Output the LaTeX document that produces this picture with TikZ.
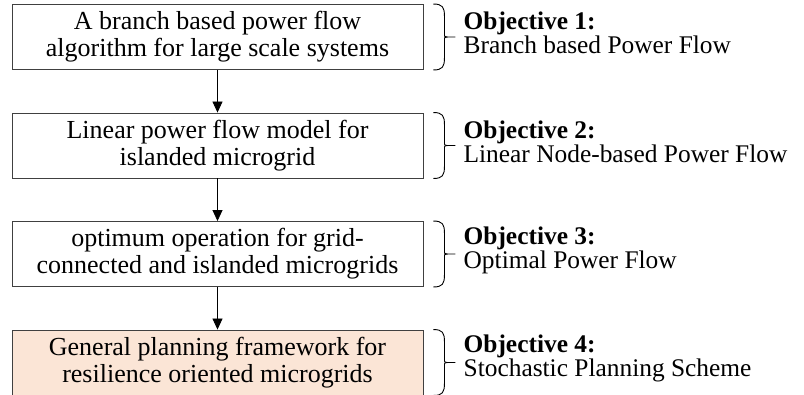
\documentclass[tikz,border=0pt]{standalone}
\usepackage{fontspec}
\setmainfont{Liberation Serif}
\usetikzlibrary{arrows.meta}
\definecolor{peach}{HTML}{FBE5D6}
\definecolor{boxline}{HTML}{404040}
\begin{document}
\begin{tikzpicture}[x=1pt,y=-1pt,
  stagebox/.style={draw=boxline,line width=0.9pt,minimum width=411pt,minimum height=65pt,
    align=center,inner sep=0pt,font=\fontsize{26}{27}\selectfont},
  objtext/.style={anchor=west,align=left,inner sep=0pt,font=\fontsize{25.4}{23}\selectfont},
  flow/.style={draw=black,line width=0.8pt,-{Triangle[length=11pt,width=10pt]}},
  bracepath/.style={draw=black,line width=0.9pt}]
\useasboundingbox (0,0) rectangle (804,394);
\node[stagebox] (b1) at (217.5,37) {A branch based power flow\\algorithm for large scale systems};
\node[stagebox] (b2) at (217.5,145.5) {Linear power flow model for\\islanded microgrid};
\node[stagebox] (b3) at (217.5,254) {optimum operation for grid-\\connected and islanded microgrids};
\node[stagebox,fill=peach] (b4) at (217.5,362.5) {General planning framework for\\resilience oriented microgrids};
\draw[flow] (b1) -- (b2);
\draw[flow] (b2) -- (b3);
\draw[flow] (b3) -- (b4);
\foreach \i/\t/\s in {1/{Objective 1:}/{Branch based Power Flow},
                      2/{Objective 2:}/{Linear Node-based Power Flow},
                      3/{Objective 3:}/{Optimal Power Flow},
                      4/{Objective 4:}/{Stochastic Planning Scheme}}{
  \coordinate (t\i) at ([xshift=10pt]b\i.north east);
  \coordinate (m\i) at ([xshift=32pt]b\i.east);
  \coordinate (u\i) at ([xshift=10pt]b\i.south east);
  \draw[bracepath] (t\i) .. controls ([xshift=9pt]t\i) and ([xshift=11pt,yshift=-3pt]t\i) .. ([xshift=11pt,yshift=-12pt]t\i)
     -- ([xshift=-11pt,yshift=4pt]m\i) .. controls ([xshift=-11pt]m\i) .. ([xshift=-8pt]m\i)
     -- (m\i);
  \draw[bracepath] ([xshift=-8pt]m\i) .. controls ([xshift=-11pt]m\i) .. ([xshift=-11pt,yshift=-4pt]m\i)
     -- ([xshift=11pt,yshift=12pt]u\i) .. controls ([xshift=11pt,yshift=3pt]u\i) and ([xshift=9pt]u\i) .. (u\i);
  \node[objtext] (o\i) at ([xshift=40pt,yshift=4pt]b\i.east) {\textbf{\t}\\\s};
}
\end{tikzpicture}
\end{document}
